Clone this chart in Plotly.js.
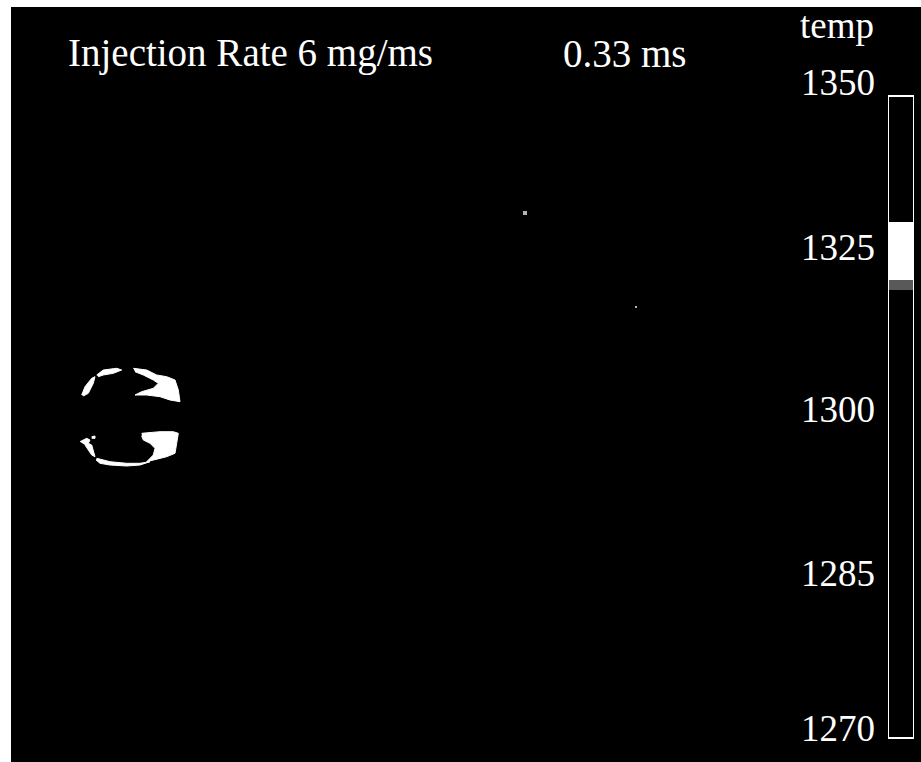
<!DOCTYPE html>
<html>
<head>
<meta charset="utf-8">
<script src="https://cdn.plot.ly/plotly-3.0.1.min.js"></script>
<style>
  html, body { margin: 0; padding: 0; background: #ffffff; }
  #chart { position: absolute; left: 11px; top: 0px; width: 910px; height: 762px; }
</style>
</head>
<body>
<div id="chart"></div>
<script>
// ---- Data (image coordinates of the field, y downward) ----
const titleText = 'Injection Rate 6 mg/ms';
const timeText = '0.33 ms';
const scaleTitle = 'temp';

// White (hot) regions forming the ring, one polygon per fragment (null separates)
const ringX = [
  81.7, 85, 91.7, 95, 93.3, 88.3, 83.3, null,
  96.7, 103.3, 116.7, 121.7, 113.3, 103.3, 98.3, null,
  133.3, 146.7, 156.7, 166.7, 175, 178.3, 180, 170, 160, 146.7, 135, 141.7, 153.3, 158.3, 153.3, 143.3, 135, null,
  141.7, 160, 173.3, 178.3, 176.7, 175, 166.7, 160, 153.3, 146.7, 153.3, 155, 150, 143.3, 141.7, null,
  96.7, 110, 126.7, 140, 150, 140, 126.7, 110, 100, 96, null,
  80, 86.7, 90, 88.3, 91.7, 93.3, 95, 91.7, 88.3, 85, null,
  91.7, 95, 95, 91.7
];
const ringY = [
  395, 386.7, 378.3, 376.7, 383.3, 393.3, 396, null,
  375, 370, 368.3, 370, 373.3, 375, 376.7, null,
  368.3, 370, 375, 376.7, 380, 390, 401.7, 400, 396.7, 395, 395, 391.7, 388.3, 383.3, 380, 375, 371.7, null,
  433.3, 431.7, 431.7, 433.3, 443.3, 453.3, 456.7, 458.3, 460, 461.7, 455, 448.3, 443.3, 440, 436, null,
  458.3, 461.7, 463.3, 463.3, 461.7, 465, 466, 465, 463.3, 460, null,
  441.7, 438.3, 440, 443.3, 445, 450, 456.7, 455, 450, 445, null,
  436.7, 436, 438.3, 438.3
];

// Isolated hot specks
const speckX = [525, 636];
const speckY = [213, 307];
const speckSize = [4, 2];

// Colour scale strip: band edges (fraction of strip height, bottom = 0) and level (0 black, 1 white)
const stripEdges = [0, 0.698, 0.7134, 0.8037, 1];
const stripLevel = [0, 0.35, 1, 0];

// Scale labels and where they sit along the strip
const scaleLabels = ['1350', '1325', '1300', '1285', '1270'];
const scaleLabelPos = [1.022, 0.764, 0.513, 0.257, 0.016];

// ---- Traces ----
const serif = 'Liberation Serif, Times New Roman, serif';

const ring = {
  type: 'scatter', mode: 'lines',
  x: ringX, y: ringY,
  fill: 'toself', fillcolor: '#ffffff',
  line: { color: '#ffffff', width: 1 },
  connectgaps: false,
  hoverinfo: 'skip', showlegend: false,
  xaxis: 'x', yaxis: 'y'
};

const specks = {
  type: 'scatter', mode: 'markers',
  x: speckX, y: speckY,
  marker: { color: '#ffffff', size: speckSize, symbol: 'square', line: { width: 0 } },
  hoverinfo: 'skip', showlegend: false,
  xaxis: 'x', yaxis: 'y'
};

const strip = {
  type: 'heatmap',
  x: [0, 1],
  y: stripEdges,
  z: stripLevel.map(v => [v]),
  zmin: 0, zmax: 1,
  colorscale: [[0, '#000000'], [1, '#ffffff']],
  showscale: false,
  hoverinfo: 'skip',
  xaxis: 'x2', yaxis: 'y2'
};

const layout = {
  width: 910, height: 762,
  margin: { l: 0, r: 0, t: 0, b: 0, pad: 0 },
  paper_bgcolor: '#000000',
  plot_bgcolor: '#000000',
  showlegend: false,
  xaxis: { domain: [0, 1], range: [11, 921], visible: false, fixedrange: true },
  yaxis: { domain: [0, 1], range: [762, 0], visible: false, fixedrange: true },
  xaxis2: { domain: [0.96374, 0.99231], range: [0, 1], visible: false, anchor: 'y2', fixedrange: true },
  yaxis2: {
    domain: [0.022310, 0.908136], range: [-0.010903, 1.040498], anchor: 'x2',
    showgrid: false, zeroline: false, showline: false, ticks: '',
    tickmode: 'array', tickvals: scaleLabelPos, ticktext: scaleLabels,
    ticklabelstandoff: 12,
    tickfont: { family: serif, size: 37, color: '#ffffff' },
    fixedrange: true
  },
  shapes: [
    { type: 'rect', xref: 'paper', yref: 'paper', x0: 0, x1: 1, y0: 0.990814, y1: 1,
      line: { width: 0 }, fillcolor: '#ffffff', layer: 'below' },
    { type: 'rect', xref: 'x2', yref: 'y2', x0: 0, x1: 1, y0: 0, y1: 1,
      line: { color: '#ffffff', width: 2 }, fillcolor: 'rgba(0,0,0,0)', layer: 'above' }
  ],
  annotations: [
    { text: titleText, xref: 'x', yref: 'y', x: 66, y: 53, xanchor: 'left', yanchor: 'middle',
      showarrow: false, font: { family: serif, size: 39, color: '#ffffff' } },
    { text: timeText, xref: 'x', yref: 'y', x: 561, y: 53, xanchor: 'left', yanchor: 'middle',
      showarrow: false, font: { family: serif, size: 39, color: '#ffffff' } },
    { text: scaleTitle, xref: 'x', yref: 'y', x: 798, y: 25, xanchor: 'left', yanchor: 'middle',
      showarrow: false, font: { family: serif, size: 37, color: '#ffffff' } }
  ]
};

Plotly.newPlot('chart', [strip, ring, specks], layout, { staticPlot: true, displayModeBar: false });
</script>
</body>
</html>
